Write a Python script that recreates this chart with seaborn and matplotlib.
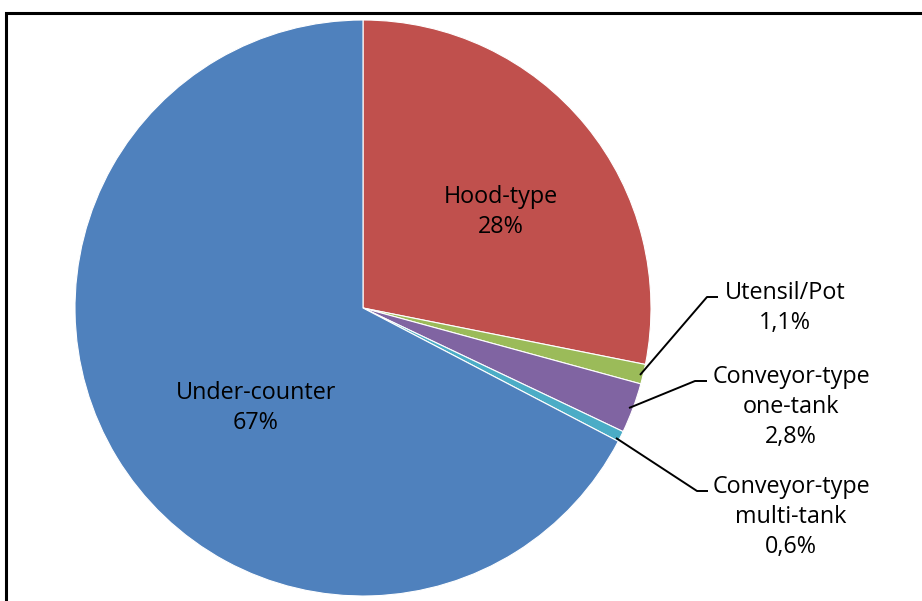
import matplotlib
matplotlib.use("Agg")
import matplotlib.pyplot as plt
import seaborn as sns
from matplotlib.patches import Rectangle

sns.set_theme(style="white")
plt.rcParams['font.family'] = ['Open Sans', 'DejaVu Sans']

categories = ["Hood-type", "Utensil/Pot", "Conveyor-type\none-tank",
              "Conveyor-type\nmulti-tank", "Under-counter"]
values = [28, 1.1, 2.8, 0.6, 67]
value_labels = ["28%", "1,1%", "2,8%", "0,6%", "67%"]
colors = ["#C0504D", "#9BBB59", "#8064A2", "#4BACC6", "#4F81BD"]

W, H = 922, 601
fig = plt.figure(figsize=(W / 100, H / 100), dpi=100)
ax = fig.add_axes([0, 0, 1, 1])

cx, cy, r = 363, H - 308, 288
wedges, _ = ax.pie(values, colors=colors, startangle=90, counterclock=False,
                   center=(cx, cy), radius=r, frame=True,
                   wedgeprops=dict(edgecolor="white", linewidth=0.8))
ax.set_xlim(0, W)
ax.set_ylim(0, H)
ax.set_axis_off()
ax.set_aspect("equal")

fs = 16.8
ls = 1.36
# inside labels
ax.text(501, H - 212, f"{categories[0]}\n{value_labels[0]}", ha="center", va="center",
        fontsize=fs, color="black", linespacing=ls)
ax.text(256, H - 408, f"{categories[4]}\n{value_labels[4]}", ha="center", va="center",
        fontsize=fs, color="black", linespacing=ls)

# outside labels with leader lines
outs = [
    (1, (640, 375), (707, 297), (718, 297), (785, 308)),
    (2, (629, 408), (695, 381), (707, 381), (791, 407)),
    (3, (616, 438), (697, 491), (708, 491), (791, 517)),
]
for idx, p0, p1, p2, tc in outs:
    ax.plot([p0[0], p1[0], p2[0]], [H - p0[1], H - p1[1], H - p2[1]],
            color="black", lw=1.4, solid_capstyle="butt")
    ax.text(tc[0], H - tc[1], f"{categories[idx]}\n{value_labels[idx]}",
            ha="center", va="center", fontsize=fs, color="black", linespacing=ls)

# outer border
fig.patches.append(Rectangle((5.5 / W, 0 - 0.01), 1.0, (H - 12.5) / H + 0.01,
                             transform=fig.transFigure, fill=False,
                             edgecolor="black", linewidth=2.2, clip_on=False))

fig.savefig("out.png", dpi=100)
